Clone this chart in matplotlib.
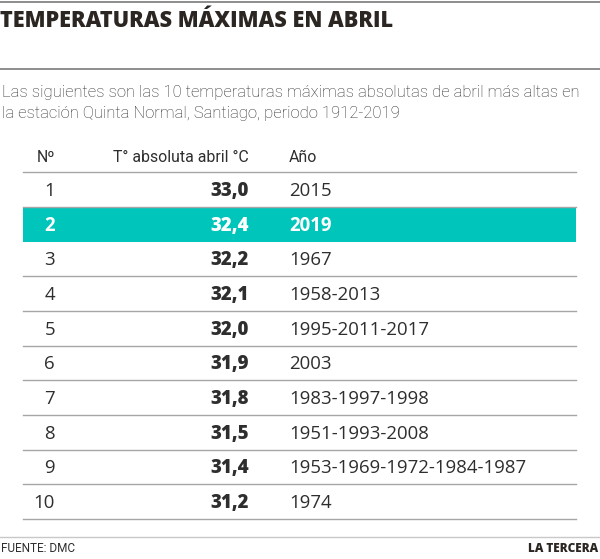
import matplotlib
matplotlib.use("Agg")
import matplotlib.pyplot as plt
from matplotlib.patches import Rectangle

title = "TEMPERATURAS MÁXIMAS EN ABRIL"
subtitle = ["Las siguientes son las 10 temperaturas máximas absolutas de abril más altas en",
            "la estación Quinta Normal, Santiago, periodo 1912-2019"]
headers = ["Nº", "T° absoluta abril °C", "Año"]
ranks = ["1", "2", "3", "4", "5", "6", "7", "8", "9", "10"]
temps = ["33,0", "32,4", "32,2", "32,1", "32,0", "31,9", "31,8", "31,5", "31,4", "31,2"]
years = ["2015", "2019", "1967", "1958-2013", "1995-2011-2017", "2003",
         "1983-1997-1998", "1951-1993-2008", "1953-1969-1972-1984-1987", "1974"]
highlight = 1
source = "FUENTE: DMC"
brand = "LA TERCERA"

W, H = 600, 559
fig = plt.figure(figsize=(W / 100, H / 100), dpi=100)
ax = fig.add_axes([0, 0, 1, 1])
ax.set_xlim(0, W)
ax.set_ylim(H, 0)
ax.axis("off")

dark = "#2b2622"
txt = "#2e2e2e"
teal = "#00c5ba"
grey = "#a6a6a6"
BODY = "Open Sans"

# top rules
ax.plot([0, W], [2, 2], color="#7a7a7a", lw=1.2, solid_capstyle="butt")
ax.plot([0, W], [69, 69], color="#7a7a7a", lw=1.2, solid_capstyle="butt")

ax.text(0, 27, title, fontsize=15.7, fontweight=800, family=BODY, color=dark,
        va="baseline", ha="left")
for i, line in enumerate(subtitle):
    ax.text(2, 97 + i * 21, line, fontsize=12.0, family="Roboto", fontweight="light",
            color=txt, va="baseline", ha="left")

x_rank, x_temp, x_year = 55, 249, 289
y_head = 157
HS = 11.4
ax.text(x_rank, y_head + 5, headers[0], fontsize=HS, family="Roboto", color=txt,
        ha="right", va="baseline")
ax.text(x_temp, y_head + 5, headers[1], fontsize=HS, family="Roboto", color=txt,
        ha="right", va="baseline")
ax.text(x_year, y_head + 5, headers[2], fontsize=HS, family="Roboto", color=txt,
        ha="left", va="baseline")

top = 172.3
pitch = 34.67
x0, x1 = 23, 576
RS = 13.4
ax.plot([x0, x1], [top, top], color=grey, lw=1.0)
for i in range(len(ranks)):
    yt = top + pitch * i
    yb = yt + pitch
    yc = (yt + yb) / 2
    hl = (i == highlight)
    if hl:
        ax.add_patch(Rectangle((x0, yt), x1 - x0, pitch, facecolor=teal,
                               edgecolor="none", zorder=0))
    else:
        ax.plot([x0, x1], [yb, yb], color=grey, lw=1.0)
    c = "white" if hl else txt
    wt = "bold" if hl else "normal"
    ax.text(x_rank, yc + 6.3, ranks[i], fontsize=RS, family=BODY, fontweight=wt,
            color=c, ha="right", va="baseline")
    ax.text(x_temp, yc + 6.3, temps[i], fontsize=RS, family=BODY, fontweight=800,
            color=c, ha="right", va="baseline")
    ax.text(x_year, yc + 6.3, years[i], fontsize=RS, family=BODY, fontweight=wt,
            color=c, ha="left", va="baseline")

ax.plot([0, W], [537, 537], color="#c8c8c8", lw=1.0)
ax.text(1, 552, source, fontsize=8.5, family="Roboto", color=txt, ha="left", va="baseline")
ax.text(598, 552, brand, fontsize=8.5, family=BODY, fontweight=800, color=dark,
        ha="right", va="baseline")

fig.savefig("out.png", dpi=100)
